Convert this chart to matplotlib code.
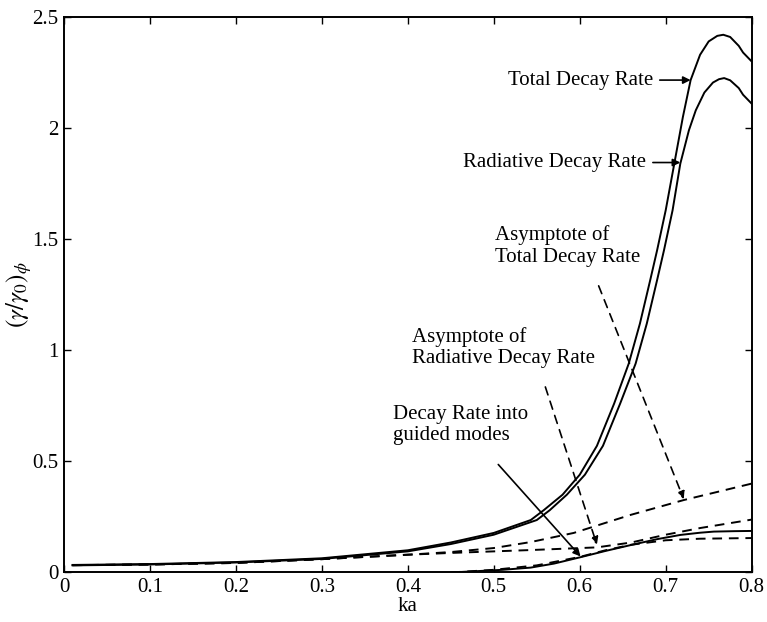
import matplotlib
matplotlib.use("Agg")
import matplotlib.pyplot as plt

# Daten
ka_total = [0.01, 0.1, 0.2, 0.3, 0.4, 0.45, 0.5, 0.543, 0.558, 0.58, 0.6, 0.62, 0.64,
            0.657, 0.67, 0.682, 0.69, 0.70, 0.71, 0.72, 0.729, 0.74, 0.75, 0.76,
            0.767, 0.775, 0.785, 0.79, 0.8]
total = [0.034, 0.038, 0.047, 0.064, 0.1, 0.135, 0.178, 0.236, 0.28, 0.35, 0.44, 0.57,
         0.76, 0.94, 1.12, 1.316, 1.45, 1.63, 1.84, 2.05, 2.216, 2.33, 2.39, 2.415,
         2.42, 2.41, 2.37, 2.34, 2.30]

ka_rad = [0.01, 0.1, 0.2, 0.3, 0.4, 0.45, 0.5, 0.55, 0.565, 0.585, 0.606, 0.627,
          0.647, 0.665, 0.678, 0.69, 0.698, 0.708, 0.717, 0.727, 0.735, 0.745,
          0.755, 0.762, 0.768, 0.775, 0.785, 0.79, 0.8]
radiative = [0.032, 0.036, 0.045, 0.061, 0.095, 0.128, 0.17, 0.236, 0.28, 0.35,
             0.44, 0.57, 0.76, 0.94, 1.12, 1.316, 1.45, 1.63, 1.84, 1.99, 2.08,
             2.16, 2.205, 2.22, 2.225, 2.215, 2.18, 2.15, 2.11]

ka_guided = [0.45, 0.48, 0.51, 0.543, 0.57, 0.6, 0.63, 0.66, 0.69, 0.717, 0.74,
             0.756, 0.78, 0.8]
guided = [0.0, 0.006, 0.012, 0.022, 0.04, 0.068, 0.097, 0.124, 0.15, 0.169, 0.179,
          0.184, 0.186, 0.187]

ka_asym_total = [0.01, 0.1, 0.2, 0.3, 0.4, 0.45, 0.5, 0.543, 0.593, 0.659, 0.721, 0.8]
asym_total = [0.033, 0.036, 0.043, 0.06, 0.08, 0.092, 0.11, 0.137, 0.178, 0.259, 0.326, 0.40]

ka_asym_rad = [0.01, 0.1, 0.2, 0.3, 0.4, 0.45, 0.5, 0.543, 0.62, 0.66, 0.7, 0.74, 0.8]
asym_rad = [0.033, 0.036, 0.043, 0.06, 0.08, 0.088, 0.095, 0.101, 0.113, 0.135, 0.17,
            0.2, 0.238]

ka_asym_guided = [0.45, 0.5, 0.55, 0.6, 0.63, 0.66, 0.7, 0.74, 0.8]
asym_guided = [0.0, 0.012, 0.032, 0.07, 0.1, 0.125, 0.145, 0.152, 0.155]

xticks = [0, 0.1, 0.2, 0.3, 0.4, 0.5, 0.6, 0.7, 0.8]
xticklabels = ["0", "0.1", "0.2", "0.3", "0.4", "0.5", "0.6", "0.7", "0.8"]
yticks = [0, 0.5, 1, 1.5, 2, 2.5]
yticklabels = ["0", "0.5", "1", "1.5", "2", "2.5"]

plt.rcParams["font.family"] = "Liberation Serif"
plt.rcParams["mathtext.fontset"] = "stix"

fig = plt.figure(figsize=(7.67, 6.22), dpi=100)
ax = fig.add_axes([0.0834, 0.0796, 0.8966, 0.8931])

lw = 1.4
dash = (0, (5, 3.5))
ax.plot(ka_total, total, color="black", lw=lw)
ax.plot(ka_rad, radiative, color="black", lw=lw)
ax.plot(ka_guided, guided, color="black", lw=lw)
ax.plot(ka_asym_total, asym_total, color="black", lw=lw, linestyle=dash)
ax.plot(ka_asym_rad, asym_rad, color="black", lw=lw, linestyle=dash)
ax.plot(ka_asym_guided, asym_guided, color="black", lw=lw, linestyle=dash)

ax.set_xlim(0, 0.8)
ax.set_ylim(0, 2.5)
ax.set_xticks(xticks)
ax.set_xticklabels(xticklabels)
ax.set_yticks(yticks)
ax.set_yticklabels(yticklabels)
ax.tick_params(direction="in", top=True, right=True, labelsize=15, length=5, width=1,
               pad=4)
for s in ax.spines.values():
    s.set_linewidth(1.4)

ax.set_xlabel("ka", fontsize=15, labelpad=0)
ax.set_ylabel(r"$(\gamma/\gamma_0)_\phi$", fontsize=18, labelpad=-1)

fs = 15
ls = 1.15
solid_arrow = dict(arrowstyle="-|>", color="black", lw=1.2, mutation_scale=11,
                   shrinkA=3, shrinkB=0)
dash_arrow = dict(arrowstyle="-|>", color="black", lw=1.2, mutation_scale=11,
                  shrinkA=0, shrinkB=0, linestyle=(0, (5, 4)))

ax.annotate("Total Decay Rate", xy=(0.729, 2.216), xytext=(0.685, 2.216),
            fontsize=fs, va="center", ha="right", arrowprops=solid_arrow)
ax.annotate("Radiative Decay Rate", xy=(0.717, 1.845), xytext=(0.677, 1.845),
            fontsize=fs, va="center", ha="right", arrowprops=solid_arrow)

ax.text(0.502, 1.469, "Asymptote of\nTotal Decay Rate", fontsize=fs, ha="left",
        va="center", linespacing=ls)
ax.annotate("", xy=(0.721, 0.33), xytext=(0.622, 1.29), arrowprops=dash_arrow)

ax.text(0.405, 1.012, "Asymptote of\nRadiative Decay Rate", fontsize=fs, ha="left",
        va="center", linespacing=ls)
ax.annotate("", xy=(0.62, 0.125), xytext=(0.56, 0.835), arrowprops=dash_arrow)

ax.text(0.383, 0.664, "Decay Rate into\nguided modes", fontsize=fs, ha="left",
        va="center", linespacing=ls)
ax.annotate("", xy=(0.601, 0.072), xytext=(0.502, 0.50), arrowprops=solid_arrow)

fig.savefig("out.png", dpi=100)
